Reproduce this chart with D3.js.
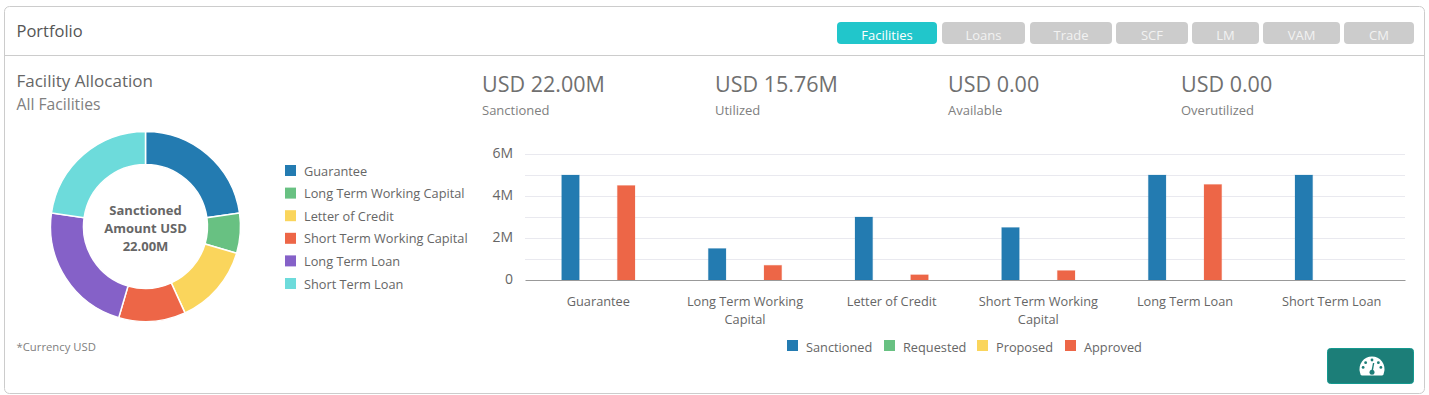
<!DOCTYPE html>
<html>
<head>
<meta charset="utf-8">
<script src="https://cdn.jsdelivr.net/npm/d3@7"></script>
<style>
  html,body{margin:0;padding:0;background:#fff;overflow:hidden;}
  svg{display:block;}
  text{font-family:"Open Sans",sans-serif;fill:#666;}
</style>
</head>
<body>
<svg id="chart" width="1429" height="395"></svg>
<script>
/*Data*/
var categories = ["Guarantee","Long Term Working Capital","Letter of Credit","Short Term Working Capital","Long Term Loan","Short Term Loan"];
var seriesNames = ["Sanctioned","Requested","Proposed","Approved"];
var sanctioned = [5000000,1500000,3000000,2500000,5000000,5000000];
var requested = [0,0,0,0,0,0];
var proposed = [0,0,0,0,0,0];
var approved = [4500000,700000,250000,450000,4550000,0];
var yTicks = [0,2000000,4000000,6000000];
var gridTicks = [1000000,2000000,3000000,4000000,5000000,6000000];
var buttonNames = ["Facilities","Loans","Trade","SCF","LM","VAM","CM"];
var statValues = ["USD 22.00M","USD 15.76M","USD 0.00","USD 0.00"];
var statNames = ["Sanctioned","Utilized","Available","Overutilized"];
var centerLines = ["Sanctioned","Amount USD","22.00M"];

var pieColors = ["#237bb1","#68c182","#fad55c","#ed6647","#8561c8","#6ddbdb"];
var seriesColors = ["#237bb1","#68c182","#fad55c","#ed6647"];

var svg = d3.select("#chart");

/*Card*/
svg.append("rect").attr("x",4.5).attr("y",6.5).attr("width",1420).attr("height",387)
  .attr("rx",5).attr("fill","#fff").attr("stroke","#ccc");
svg.append("line").attr("x1",5).attr("x2",1424).attr("y1",55.5).attr("y2",55.5).attr("stroke","#ccc");
svg.append("text").attr("x",16.5).attr("y",36.5).attr("font-size",16.5).style("fill","#555").text("Portfolio");

/*Buttons*/
var btnLeft = [837,942,1030,1116,1192,1263,1344];
var btnRight = [937,1025,1112,1188,1259,1340,1414];
var btn = svg.append("g").selectAll("g").data(buttonNames).join("g");
btn.append("rect")
  .attr("x",(d,i)=>btnLeft[i]).attr("y",22)
  .attr("width",(d,i)=>btnRight[i]-btnLeft[i]).attr("height",22)
  .attr("rx",4).attr("fill",(d,i)=>i==0?"#21c6cb":"#ccc");
btn.append("text")
  .attr("x",(d,i)=>(btnLeft[i]+btnRight[i])/2).attr("y",39.5)
  .attr("text-anchor","middle").attr("font-size",13)
  .style("fill",(d,i)=>i==0?"#fff":"#f2f2f2").text(d=>d);

/*Left titles*/
svg.append("text").attr("x",16.5).attr("y",87).attr("font-size",17).text("Facility Allocation");
svg.append("text").attr("x",16.5).attr("y",110).attr("font-size",15.7).style("fill","#808080").text("All Facilities");
svg.append("text").attr("x",16.5).attr("y",351).attr("font-size",11.3).style("fill","#808080").text("*Currency USD");

/*Donut*/
var pie = d3.pie().sort(null);
var arc = d3.arc().innerRadius(62).outerRadius(95);
var donut = svg.append("g").attr("transform","translate(145.5,226.5)");
donut.selectAll("path").data(pie(sanctioned)).join("path")
  .attr("d",arc)
  .attr("fill",(d,i)=>pieColors[i])
  .attr("stroke","#fff").attr("stroke-width",1.5);
donut.selectAll("text").data(centerLines).join("text")
  .attr("text-anchor","middle")
  .attr("y",(d,i)=>-12+i*18)
  .attr("font-size",13).attr("font-weight",700)
  .text(d=>d);

/*Donut legend*/
var leg1 = svg.append("g").selectAll("g").data(categories).join("g")
  .attr("transform",(d,i)=>"translate(285,"+(165+i*22.6)+")");
leg1.append("rect").attr("width",11).attr("height",11).attr("fill",(d,i)=>pieColors[i]);
leg1.append("text").attr("x",19).attr("y",10.5).attr("font-size",12.75).text(d=>d);

/*Stats*/
var statX = d3.scaleLinear().domain([0,1]).range([482,715]);
var stats = svg.append("g").selectAll("g").data(statValues).join("g")
  .attr("transform",(d,i)=>"translate("+statX(i)+",0)");
stats.append("text").attr("y",92).attr("font-size",21.5).style("fill","#707070").text(d=>d);
stats.append("text").attr("y",115).attr("font-size",13).style("fill","#808080").text((d,i)=>statNames[i]);

/*Bar chart*/
var x0 = d3.scaleBand().domain(categories).range([525,1405]).paddingInner(0.5).paddingOuter(0.25);
var x1 = d3.scaleBand().domain(seriesNames).range([0,x0.bandwidth()]).paddingInner(0.05);
var y = d3.scaleLinear().domain([0,6000000]).range([280,154]);

var grid = svg.append("g").attr("transform","translate(525,0)")
  .call(d3.axisLeft(y).tickValues(gridTicks).tickSize(-880).tickFormat(""));
grid.select(".domain").remove();
grid.selectAll("line").attr("stroke","#e9e9ef");

var yAxis = svg.append("g").attr("transform","translate(516,-1)")
  .call(d3.axisLeft(y).tickValues(yTicks).tickSize(0).tickFormat(d=>d==0?"0":(d/1000000)+"M"));
yAxis.select(".domain").remove();
yAxis.selectAll("text").attr("font-size",14).attr("font-family",null).style("fill","#666");

var series = [sanctioned,requested,proposed,approved];
var groups = svg.append("g").selectAll("g").data(series).join("g");
groups.selectAll("rect")
  .data((s,j)=>s.map((v,i)=>({v:v,cat:categories[i],name:seriesNames[j],color:seriesColors[j]})).filter(d=>d.v>0))
  .join("rect")
  .attr("x",d=>x0(d.cat)+x1(d.name))
  .attr("y",d=>y(d.v))
  .attr("width",x1.bandwidth())
  .attr("height",d=>y(0)-y(d.v))
  .attr("fill",d=>d.color)
  .attr("stroke",d=>d.color).attr("stroke-opacity",0.2);

var xAxis = svg.append("g").attr("transform","translate(0,280)")
  .call(d3.axisBottom(x0).tickSize(0));
xAxis.select(".domain").attr("stroke","#999");
xAxis.selectAll("text").attr("font-size",12.75).attr("font-family",null).attr("dy",null)
  .each(function(d){
    // long names wrap on the last word
    var words = d.split(" ");
    var t = d3.select(this).text(null);
    var lines = d.length>20 ? [words.slice(0,-1).join(" "),words[words.length-1]] : [d];
    lines.forEach(function(l,i){
      t.append("tspan").attr("x",0).attr("y",26+i*17.5).text(l);
    });
  });

/*Bar legend*/
var legX = [787,884,977,1065];
var leg2 = svg.append("g").selectAll("g").data(seriesNames).join("g")
  .attr("transform",(d,i)=>"translate("+legX[i]+",340)");
leg2.append("rect").attr("width",11).attr("height",11).attr("fill",(d,i)=>seriesColors[i]);
leg2.append("text").attr("x",19).attr("y",12).attr("font-size",12.75).text(d=>d);

/*Dashboard button*/
svg.append("rect").attr("x",1327.5).attr("y",348.5).attr("width",86).attr("height",35)
  .attr("rx",3).attr("fill","#1c7e78").attr("stroke","#14998f");
var gauge = svg.append("g").attr("transform","translate(1372,369)");
gauge.append("path").attr("fill","#fff")
  .attr("d","M-12,3.5 A12.5,12.5 0 1 1 12,3.5 Q11.7,6.5 10,6.5 L-10,6.5 Q-11.7,6.5 -12,3.5 Z");
gauge.selectAll("circle.dot").data([-80,-45,0,45,80]).join("circle")
  .attr("cx",d=>9*Math.sin(d*Math.PI/180)).attr("cy",d=>-9*Math.cos(d*Math.PI/180))
  .attr("r",1.4).attr("fill","#1c7e78");
gauge.append("circle").attr("cx",0).attr("cy",3.2).attr("r",2.5).attr("fill","#1c7e78");
gauge.append("line").attr("x1",0).attr("y1",3.2).attr("x2",1.6).attr("y2",-6).attr("stroke","#1c7e78").attr("stroke-width",1.4);
</script>
</body>
</html>
